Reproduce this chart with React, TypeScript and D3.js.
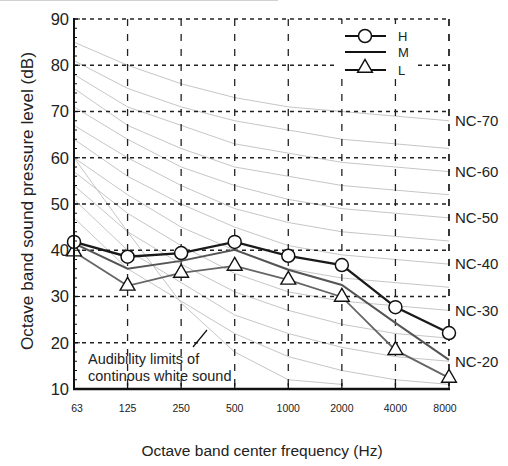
import React from "react";
import * as d3 from "d3";

const freqs = ["63", "125", "250", "500", "1000", "2000", "4000", "8000"];
const yTicks = [10, 20, 30, 40, 50, 60, 70, 80, 90];

const seriesH = [41.8, 38.6, 39.4, 41.8, 38.8, 36.8, 27.7, 22.1];
const seriesM = [41.5, 36.0, 37.7, 40.1, 35.8, 32.5, 24.3, 16.3];
const seriesL = [39.7, 32.3, 35.1, 36.6, 33.6, 29.9, 18.4, 12.4];

const ncNames = ["NC-70", "NC-65", "NC-60", "NC-55", "NC-50", "NC-45", "NC-40", "NC-35", "NC-30", "NC-25", "NC-20", "NC-15"];
const ncValues = [
  [85, 80, 76, 73, 71, 70, 69, 68],
  [81, 75, 71, 68, 66, 64, 63, 62],
  [78, 71, 67, 63, 61, 59, 58, 57],
  [75, 67, 62, 58, 56, 54, 53, 52],
  [71, 64, 58, 54, 51, 49, 48, 47],
  [67, 60, 54, 49, 46, 44, 43, 42],
  [64, 56, 50, 45, 41, 39, 38, 37],
  [60, 52, 45, 40, 36, 34, 33, 32],
  [57, 48, 41, 35, 31, 29, 28, 27],
  [54, 44, 37, 31, 27, 24, 22, 21],
  [51, 40, 33, 26, 22, 19, 17, 16],
  [47, 36, 29, 22, 17, 14, 12, 11],
];
const ncLabelled = ["NC-70", "NC-60", "NC-50", "NC-40", "NC-30", "NC-20"];

const audibility = [60, 44, 28.6, 18, 12, 11];

const FONT = "Arial, 'Liberation Sans', Helvetica, sans-serif";

export default function App() {
  const W = 508, H = 466;
  const x = d3.scalePoint<string>().domain(freqs).range([74, 449]);
  const y = d3.scaleLinear().domain([10, 90]).range([389, 19]);
  const line = d3.line<number>().x((_, i) => x(freqs[i]) as number).y((d) => y(d));

  const minor = d3.range(10, 91, 2);
  const tri = d3.symbol().type(d3.symbolTriangle).size(95)();

  return (
    <svg width={W} height={H} style={{ position: "absolute", left: 0, top: 0, background: "#fff" }} fontFamily={FONT}>
      <rect x={0} y={0} width={W} height={H} fill="#fff" />
      <line x1={0} x2={278} y1={0.5} y2={0.5} stroke="#d0d0d0" strokeWidth={1} />
      <defs>
        <clipPath id="plot">
          <rect x={74} y={19} width={375} height={370} />
        </clipPath>
      </defs>

      {/* NC curves */}
      <g clipPath="url(#plot)" fill="none" stroke="#c6c6c6" strokeWidth={1}>
        {ncValues.map((vals, i) => (
          <path key={ncNames[i]} d={line(vals) || ""} />
        ))}
        <path d={line(audibility) || ""} />
      </g>

      {/* grid */}
      <g stroke="#222" strokeWidth={1.3} fill="none">
        {yTicks.filter((t) => t > 10).map((t) => (
          <line key={t} x1={74} x2={449} y1={y(t)} y2={y(t)} strokeDasharray="4,4" />
        ))}
        {freqs.slice(1).map((f) => (
          <line key={f} x1={x(f)} x2={x(f)} y1={19} y2={389} strokeDasharray="7,8" strokeWidth={f === "8000" ? 1.8 : 1.3} />
        ))}
      </g>

      {/* legend background */}
      <rect x={338} y={24} width={78} height={52} fill="#fff" />

      {/* audibility annotation */}
      <line x1={193} x2={207} y1={347} y2={330} stroke="#111" strokeWidth={1.2} />
      <text x={88} y={364} fontSize={14.5} fill="#222">Audibility limits of</text>
      <text x={88} y={381} fontSize={14.5} fill="#222">continous white sound</text>

      {/* series */}
      <path d={line(seriesL) || ""} fill="none" stroke="#666" strokeWidth={1.8} />
      <path d={line(seriesM) || ""} fill="none" stroke="#555" strokeWidth={2} />
      <path d={line(seriesH) || ""} fill="none" stroke="#1a1a1a" strokeWidth={2.3} />
      {seriesL.map((v, i) => (
        <path key={"l" + i} d={tri || ""} transform={`translate(${x(freqs[i])},${y(v)})`} fill="#fff" stroke="#111" strokeWidth={1.4} />
      ))}
      {seriesH.map((v, i) => (
        <circle key={"h" + i} cx={x(freqs[i])} cy={y(v)} r={6.5} fill="#fff" stroke="#111" strokeWidth={1.5} />
      ))}

      {/* axes */}
      <line x1={74} x2={74} y1={18} y2={390} stroke="#111" strokeWidth={2} />
      <line x1={73} x2={450} y1={389} y2={389} stroke="#111" strokeWidth={2.5} />
      <g stroke="#111" strokeWidth={1}>
        {minor.map((t) => (
          <line key={t} x1={74} x2={t % 10 === 0 ? 80 : 77} y1={y(t)} y2={y(t)} />
        ))}
        {freqs.map((f) => (
          <line key={f} x1={x(f)} x2={x(f)} y1={389} y2={383} strokeWidth={1.3} />
        ))}
      </g>
      {yTicks.map((t) => (
        <text key={t} x={69} y={y(t)} dy="0.35em" textAnchor="end" fontSize={16.5} fill="#222">
          {t}
        </text>
      ))}
      {freqs.map((f) => (
        <text key={f} x={(x(f) as number) + (f === "63" ? 3 : f === "8000" ? -4 : 0)} y={408} dy="0.35em" textAnchor="middle" fontSize={10.5} fill="#222">
          {f}
        </text>
      ))}

      {/* NC labels */}
      {ncNames.map((n, i) =>
        ncLabelled.includes(n) ? (
          <text key={n} x={455} y={y(ncValues[i][7])} dy="0.35em" fontSize={15} fill="#222">
            {n}
          </text>
        ) : null
      )}

      {/* legend */}
      <g stroke="#111" strokeWidth={2}>
        <line x1={345} x2={386} y1={36} y2={36} />
        <line x1={345} x2={386} y1={52} y2={52} />
        <line x1={345} x2={386} y1={70} y2={70} />
      </g>
      <circle cx={365} cy={36} r={6.5} fill="#fff" stroke="#111" strokeWidth={1.5} />
      <path d={tri || ""} transform="translate(365,68)" fill="#fff" stroke="#111" strokeWidth={1.4} />
      <text x={398} y={36} dy="0.35em" fontSize={13} fill="#222">H</text>
      <text x={398} y={52} dy="0.35em" fontSize={13} fill="#222">M</text>
      <text x={398} y={70} dy="0.35em" fontSize={13} fill="#222">L</text>

      {/* titles */}
      <text transform="translate(33,201) rotate(-90)" textAnchor="middle" fontSize={17.2} fill="#222">
        Octave band sound pressure level (dB)
      </text>
      <text x={262} y={456} textAnchor="middle" fontSize={15.5} fill="#222">
        Octave band center frequency (Hz)
      </text>
    </svg>
  );
}
